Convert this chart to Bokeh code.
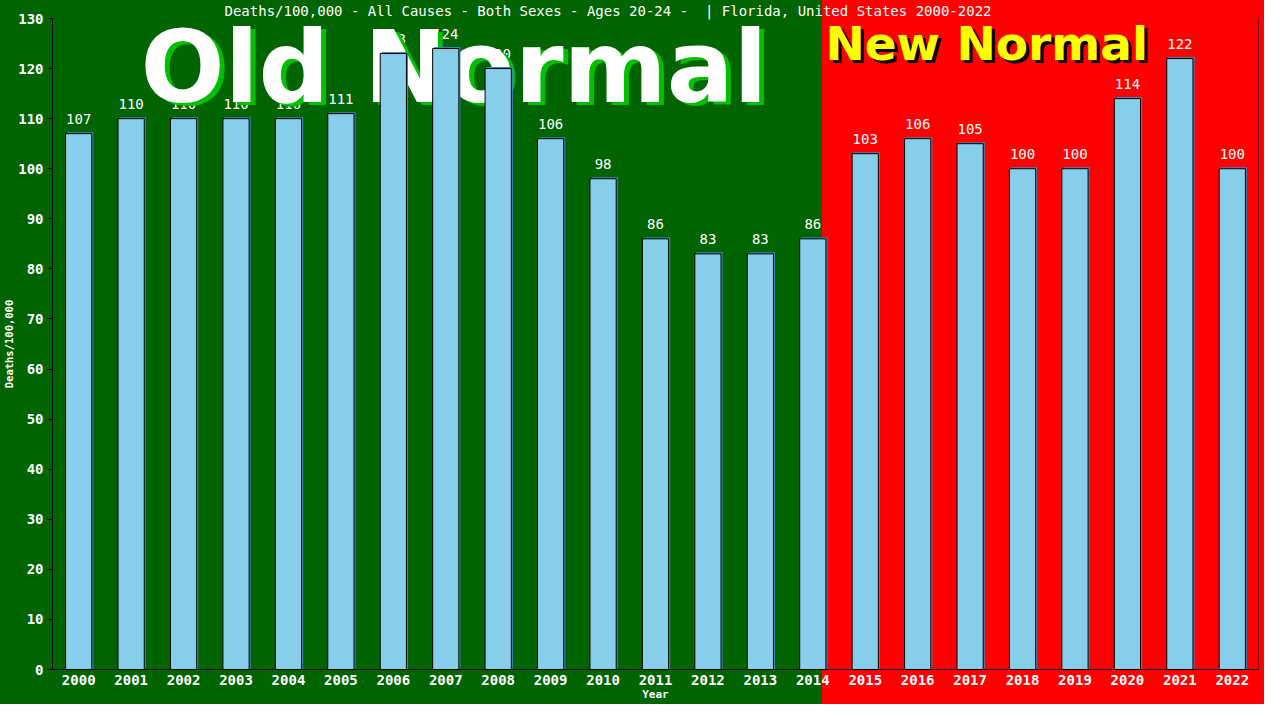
from bokeh.plotting import figure
from bokeh.models import Range1d, FixedTicker, Span, ColumnDataSource
from bokeh.core.properties import value
from bokeh.embed import file_html
from bokeh.resources import INLINE

years = [str(y) for y in range(2000, 2023)]
deaths = [107, 110, 110, 110, 110, 111, 123, 124, 120, 106, 98, 86, 83, 83, 86,
          103, 106, 105, 100, 100, 114, 122, 100]
y_ticks = list(range(0, 131, 10))
title_text = "Deaths/100,000 - All Causes - Both Sexes - Ages 20-24 - \u00a0| Florida, United States 2000-2022"

GREEN = "#006400"
RED = "#FF0000"
BAR = "#87CEEB"
SHADOW = "#4682B4"
MONO = "DejaVu Sans Mono"

idx = list(range(len(years)))
src = ColumnDataSource(dict(
    x=idx,
    top=deaths,
    sx=[i + 0.03 for i in idx],
    stop=[d + 0.3 for d in deaths],
    lab=[str(d) for d in deaths],
))

p = figure(width=1264, height=704, output_backend="svg", toolbar_location=None,
           x_range=Range1d(-0.5, len(years) - 0.5), y_range=Range1d(0, 130),
           min_border_left=52, min_border_right=6, min_border_top=17,
           min_border_bottom=35)
p.background_fill_color = None
p.border_fill_color = None
p.outline_line_color = None
p.styles = {"background": f"linear-gradient(to right, {GREEN} 0px, {GREEN} 822px, {RED} 822px, {RED} 100%)"}
p.grid.visible = False

# title
p.title.text = title_text
p.title.text_color = "white"
p.title.text_font = MONO
p.title.text_font_style = "normal"
p.title.text_font_size = "14px"
p.title.align = "left"
p.title.offset = 172
p.title.standoff = 0

# axes
p.xaxis.ticker = FixedTicker(ticks=idx)
p.xaxis.major_label_overrides = {i: y for i, y in zip(idx, years)}
p.yaxis.ticker = FixedTicker(ticks=y_ticks)
for ax in (p.xaxis, p.yaxis):
    ax.axis_line_color = "black"
    ax.major_tick_line_color = "black"
    ax.minor_tick_line_color = None
    ax.major_label_text_color = "white"
    ax.major_label_text_font = MONO
    ax.major_label_text_font_style = "bold"
    ax.major_label_text_font_size = "14px"
    ax.axis_label_text_color = "white"
    ax.axis_label_text_font = MONO
    ax.axis_label_text_font_style = "bold"
    ax.axis_label_text_font_size = "11px"
p.xaxis.axis_label = "Year"
p.yaxis.axis_label = "Deaths/100,000"
p.yaxis.axis_label_text_font_size = "10.5px"
p.xaxis.major_tick_out = 0
p.xaxis.major_tick_in = 0
p.xaxis.major_label_standoff = 5
p.xaxis.axis_label_standoff = 0
p.yaxis.major_tick_out = 5
p.yaxis.major_tick_in = 0
p.yaxis.major_label_standoff = 4
p.yaxis.axis_label_standoff = 0

# right spine
p.add_layout(Span(location=len(years) - 0.5, dimension="height", line_color="black", line_width=1))

# value labels (drawn first, under the big text)
p.text(x="x", y="top", text="lab", source=src, text_color="white",
       text_font=value(MONO), text_font_size="14px", text_align="center",
       text_baseline="bottom", y_offset=-10)

# Old Normal
old_x, old_y = 1.178, 120.3
p.text(x=[old_x], y=[old_y], text=["Old Normal"], text_color="#00C000",
       text_font=value("DejaVu Sans"), text_font_style="bold", text_font_size="99px",
       text_align="left", text_baseline="alphabetic", x_offset=5, y_offset=3)
p.text(x=[old_x], y=[old_y], text=["Old Normal"], text_color="white",
       text_font=value("DejaVu Sans"), text_font_style="bold", text_font_size="99px",
       text_align="left", text_baseline="alphabetic")

# New Normal
new_x, new_y = 14.24, 125.0
p.text(x=[new_x], y=[new_y], text=["New Normal"], text_color="black",
       text_font=value("DejaVu Sans"), text_font_style="bold", text_font_size="47px",
       text_align="left", text_baseline="alphabetic", x_offset=3, y_offset=3)
p.text(x=[new_x], y=[new_y], text=["New Normal"], text_color="#FFFF00",
       text_font=value("DejaVu Sans"), text_font_style="bold", text_font_size="47px",
       text_align="left", text_baseline="alphabetic")

# bars
p.vbar(x="sx", top="stop", bottom=0, width=0.5, source=src, fill_color=SHADOW, line_color=None)
p.vbar(x="x", top="top", bottom=0, width=0.5, source=src, fill_color=BAR,
       line_color="black", line_width=1)

open("out.html", "w").write(file_html(p, INLINE))
